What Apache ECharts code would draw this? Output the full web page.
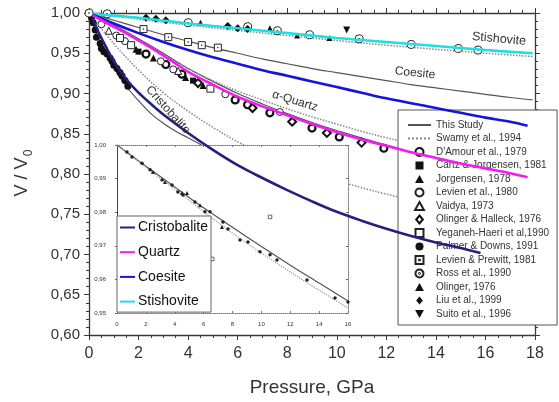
<!DOCTYPE html>
<html>
<head>
<meta charset="utf-8">
<script src="https://cdn.jsdelivr.net/npm/echarts@6.0.0/dist/echarts.min.js"></script>
<style>
  html, body { margin: 0; padding: 0; background: #fff; }
  #chart { width: 559px; height: 402px; }
</style>
</head>
<body>
<div id="chart"></div>
<script>
// ---- tick labels ----
const xTickLabels = ['0', '2', '4', '6', '8', '10', '12', '14', '16', '18'];
const yTickLabels = ['0,60', '0,65', '0,70', '0,75', '0,80', '0,85', '0,90', '0,95', '1,00'];
const insetXTickLabels = ['0', '2', '4', '6', '8', '10', '12', '14', '16'];
const insetYTickLabels = ['0,95', '0,96', '0,97', '0,98', '0,99', '1,00'];

// ---- fitted compression curves, [pressure GPa, V/V0] ----
const cristobaliteFit = [[0.15,0.993],[0.4,0.975],[0.65,0.960],[1,0.940],[1.5,0.918],[2,0.901],[2.5,0.887],[3,0.874],[4,0.851],[5,0.830],[6,0.811],[7,0.795],[8,0.780],[9,0.766],[10,0.753],[11,0.742],[12,0.732],[13,0.723],[14,0.715],[15,0.708],[15.8,0.702]];
const quartzFit = [[0.15,0.997],[0.5,0.991],[1,0.983],[1.5,0.975],[2,0.966],[2.5,0.957],[3,0.947],[3.5,0.937],[4,0.927],[5,0.911],[6,0.896],[7,0.884],[8,0.873],[9,0.862],[10,0.852],[11,0.843],[12,0.835],[13,0.827],[14,0.820],[15,0.813],[16,0.807],[17,0.801],[17.7,0.796]];
const coesiteFit = [[0.15,0.998],[1,0.987],[2,0.975],[3,0.964],[4,0.954],[5,0.945],[6,0.937],[7,0.929],[8,0.922],[9,0.915],[10,0.908],[11,0.901],[12,0.894],[13,0.888],[14,0.882],[15,0.876],[16,0.870],[17,0.865],[17.7,0.860]];
const stishoviteFit = [[0.15,0.999],[2,0.994],[4,0.987],[6,0.981],[8,0.975],[10,0.969],[12,0.964],[14,0.959],[16,0.954],[17.9,0.950]];

// ---- "This Study" curves ----
const studyCristobalite = [[0,1],[0.3,0.975],[0.6,0.955],[1,0.932],[1.5,0.909],[2,0.891],[2.5,0.875],[3,0.863],[3.5,0.853],[4,0.845],[5,0.828],[6,0.810],[7,0.794],[8,0.780],[9,0.766],[10,0.753],[12,0.732],[14,0.715],[15.8,0.702]];
const studyQuartz = [[0,1],[1,0.985],[2,0.968],[3,0.950],[4,0.931],[5,0.915],[6,0.900],[7,0.887],[8,0.875],[9,0.864],[10,0.854],[12,0.836],[14,0.821],[16,0.807],[17.7,0.796]];
const studyCoesite = [[0,1],[1,0.991],[2,0.982],[3,0.973],[4,0.965],[5,0.957],[6,0.950],[7,0.943],[8,0.937],[9,0.931],[10,0.926],[11,0.921],[12,0.916],[13,0.911],[14,0.907],[15,0.903],[16,0.899],[17,0.895],[17.9,0.892]];
const studyStishovite = [[0,1],[2,0.994],[4,0.987],[6,0.981],[8,0.975],[10,0.969],[12,0.964],[14,0.959],[16,0.954],[17.9,0.950]];

// ---- Swamy et al., 1994 ----
const swamyCristobalite = [[0,1],[1,0.962],[2,0.929],[3,0.901],[4,0.878],[5,0.858],[6,0.840],[7,0.825],[8,0.812],[9,0.801],[10,0.792],[11,0.783],[12,0.775],[13,0.768],[14,0.762],[15,0.756],[16,0.751]];
const swamyQuartz = [[0,1],[1,0.982],[2,0.965],[3,0.948],[4,0.931],[5,0.916],[6,0.903],[7,0.892],[8,0.881],[9,0.871],[10,0.862],[11,0.853],[12,0.845],[13,0.838],[14,0.831],[15,0.825],[16,0.819]];
const swamyStishovite = [[0,1],[4,0.985],[8,0.972],[12,0.960],[16,0.950],[17.9,0.946]];

// ---- measured points ----
const dAmour = [[2.3,0.949],[3.1,0.936],[3.75,0.924],[5.9,0.892],[6.4,0.886],[7.3,0.876],[9.0,0.857],[10.1,0.846],[11.9,0.832]];
const cartzJorgensen = [[2.0,0.952],[4.2,0.916]];
const jorgensen = [[1.9,0.955],[2.6,0.944],[3.9,0.920],[4.6,0.910]];
const levien1980 = [[0.5,0.986],[1.1,0.972],[1.45,0.965],[2.9,0.940],[3.4,0.930],[5.5,0.899],[7.7,0.877]];
const vaidya = [[0.8,0.978],[3.6,0.928]];
const olingerHalleck = [[4.4,0.913],[6.6,0.882],[8.2,0.865],[9.6,0.851],[11.0,0.839]];
const yeganehHaeri = [[1.25,0.969],[1.7,0.960],[4.9,0.906]];
const palmerDowns = [[0.1,0.994],[0.17,0.988],[0.25,0.979],[0.3,0.970],[0.45,0.962],[0.5,0.956],[0.6,0.952],[0.73,0.949],[0.85,0.944],[0.93,0.940],[1.0,0.935],[1.13,0.931],[1.25,0.926],[1.33,0.922],[1.45,0.916],[1.57,0.909]];
const levienPrewitt = [[2.2,0.980],[3.2,0.970],[4.0,0.964],[4.55,0.960],[5.2,0.957]];
const ross = [[0,1.0],[0.73,0.999],[4.0,0.988],[6.4,0.983],[7.6,0.978],[8.9,0.973],[10.9,0.968],[13.0,0.961],[14.9,0.956],[15.7,0.954]];
const olinger1976 = [[4.5,0.988],[7.3,0.981],[8.4,0.972],[9.7,0.969]];
const liu = [[2.3,0.994],[2.7,0.993],[3.1,0.991],[5.6,0.984],[6.0,0.981],[6.4,0.980]];
const suito = [[10.4,0.979]];

// ---- stishovite detail (inset) ----
const insetStudy = [[0,1],[2,0.9937],[4,0.9875],[6,0.9813],[8,0.9755],[10,0.9698],[12,0.9642],[14,0.9589],[16,0.9536]];
const insetSwamy = [[0,1],[4,0.9868],[8,0.9738],[12,0.9622],[16,0.9515]];
const insetDots = [[0.69,0.9979],[1.04,0.9964],[1.73,0.9946],[2.29,0.9926],[3.12,0.9896],[3.81,0.9881],[4.22,0.986],[4.57,0.9851],[5.4,0.983],[6.09,0.9801],[6.44,0.9801],[7.34,0.9771],[7.69,0.975],[8.52,0.9717],[9.07,0.9711],[9.9,0.9682],[10.6,0.9673],[11.08,0.9658],[13.16,0.9598],[15.1,0.9545],[16.0,0.9533]];
const insetTriangles = [[2.49,0.992],[3.32,0.989],[4.5,0.9857],[4.85,0.9857],[5.75,0.9821],[7.27,0.9756]];
const insetOpen = [[10.6,0.9786],[6.6,0.9661]];

const phaseNames = ['Cristobalite', 'Quartz', 'Coesite', 'Stishovite'];

const FONT = "'Liberation Sans', Arial, Helvetica, sans-serif";
const INK = '#333';
const AXIS = '#3a3a3a';

// marker shapes (paths keep their proportions in the legend)
const P_CIRCLE = 'path://M5,0A5,5,0,1,1,4.99,0Z';
const P_SQUARE = 'path://M0,0H10V10H0Z';
const P_TRI = 'path://M5,0L10,9L0,9Z';
const P_DIAMOND = 'path://M5,0L10,6L5,12L0,6Z';
const P_SQUARE_DOT = 'path://M0,0H10V10H0Z M4.6,4.6H5.4V5.4H4.6Z';
const P_CIRCLE_DOT = 'path://M5,0A5,5,0,1,1,4.99,0Z M5,4.5A0.5,0.5,0,1,1,4.99,4.5Z';
const P_DOWN_TRI = 'path://M0,0L10,0L5,9Z';

const legendItems = [
  { name: 'This Study' },
  { name: 'Swamy et al., 1994' },
  { name: "D'Amour et al., 1979", icon: P_CIRCLE },
  { name: 'Cartz & Jorgensen, 1981', icon: P_SQUARE },
  { name: 'Jorgensen, 1978', icon: P_TRI },
  { name: 'Levien et al., 1980', icon: P_CIRCLE },
  { name: 'Vaidya, 1973', icon: P_TRI },
  { name: 'Olinger & Halleck, 1976', icon: P_DIAMOND },
  { name: 'Yeganeh-Haeri et al,1990', icon: P_SQUARE },
  { name: 'Palmer & Downs, 1991', icon: P_CIRCLE },
  { name: 'Levien & Prewitt, 1981', icon: P_SQUARE_DOT },
  { name: 'Ross et al., 1990', icon: P_CIRCLE_DOT },
  { name: 'Olinger, 1976', icon: P_TRI },
  { name: 'Liu et al., 1999', icon: P_DIAMOND },
  { name: 'Suito et al., 1996', icon: P_DOWN_TRI }
];

function curve(name, data, color, width, type, z, xi) {
  return {
    type: 'line', name, data, xAxisIndex: xi || 0, yAxisIndex: xi || 0,
    smooth: 0.35, symbol: 'none', silent: true, z,
    lineStyle: { color, width, type: type || 'solid' },
    itemStyle: { color: 'rgba(0,0,0,0)', borderWidth: 0 }
  };
}
function marks(name, data, symbol, size, fill, stroke, bw, xi, z) {
  return {
    type: 'scatter', name, data, xAxisIndex: xi || 0, yAxisIndex: xi || 0,
    symbol, symbolSize: size, silent: true, z: z || 3,
    itemStyle: { color: fill, borderColor: stroke, borderWidth: bw, opacity: 1 }
  };
}

const series = [
  curve('This Study', studyStishovite, '#555', 1.2, 'solid', 2),
  curve('Swamy et al., 1994', swamyStishovite, '#888', 1.5, 'dotted', 2),
  curve('This Study', studyCoesite, '#555', 1.2, 'solid', 2),
  curve('This Study', studyQuartz, '#555', 1.2, 'solid', 2),
  curve('Swamy et al., 1994', swamyQuartz, '#888', 1.5, 'dotted', 2),
  curve('This Study', studyCristobalite, '#555', 1.2, 'solid', 2),
  curve('Swamy et al., 1994', swamyCristobalite, '#888', 1.5, 'dotted', 2),

  marks("D'Amour et al., 1979", dAmour, 'circle', 7, '#fff', '#111', 2.2),
  marks('Cartz & Jorgensen, 1981', cartzJorgensen, 'rect', 6, '#111', '#111', 0),
  marks('Jorgensen, 1978', jorgensen, 'triangle', 7, '#111', '#111', 0),
  marks('Levien et al., 1980', levien1980, 'circle', 7, '#fff', '#222', 1),
  marks('Vaidya, 1973', vaidya, 'triangle', 7, '#fff', '#222', 1),
  marks('Olinger & Halleck, 1976', olingerHalleck, 'diamond', 8, '#fff', '#111', 2),
  marks('Yeganeh-Haeri et al,1990', yeganehHaeri, 'rect', 7, '#fff', '#222', 1),
  marks('Palmer & Downs, 1991', palmerDowns, 'circle', 7, '#111', '#111', 0),
  marks('Levien & Prewitt, 1981', levienPrewitt, P_SQUARE_DOT, 7, '#fff', '#222', 1),
  marks('Ross et al., 1990', ross, P_CIRCLE_DOT, 8, '#fff', '#222', 1),
  marks('Olinger, 1976', olinger1976, 'triangle', 6, '#111', '#111', 0),
  marks('Liu et al., 1999', liu, 'diamond', 8, '#111', '#111', 0),
  marks('Suito et al., 1996', suito, P_DOWN_TRI, 7, '#111', '#111', 0),

  // inset: stishovite at low compression
  curve('Stishovite detail', insetStudy, '#555', 1.2, 'solid', 4, 2),
  curve('Stishovite detail Swamy', insetSwamy, '#999', 1.2, 'dotted', 4, 2),
  marks('Stishovite detail points', insetDots, 'circle', 3.5, '#222', '#222', 0, 2, 4),
  marks('Stishovite detail triangles', insetTriangles, 'triangle', 4, '#222', '#222', 0, 2, 4),
  marks('Stishovite detail open', insetOpen, 'rect', 3.5, '#fff', '#444', 0.8, 2, 4),

  // colored fits, drawn on top
  curve('Stishovite', stishoviteFit, '#1fe0e0', 2.6, 'solid', 6),
  curve('Coesite', coesiteFit, '#1414dc', 2.6, 'solid', 6),
  curve('Quartz', quartzFit, '#f01cf0', 2.6, 'solid', 6),
  curve('Cristobalite', cristobaliteFit, '#23217c', 2.6, 'solid', 6)
];

function mainXAxis(position, labels) {
  return {
    gridIndex: 0, type: 'value', position, min: 0, max: 18, interval: 2,
    axisLine: { show: true, onZero: false, lineStyle: { color: AXIS, width: 1.3 } },
    axisTick: { show: true, length: 5, lineStyle: { color: AXIS, width: 1 } },
    minorTick: { show: true, splitNumber: 4, length: 3, lineStyle: { color: AXIS, width: 1 } },
    splitLine: { show: false }, minorSplitLine: { show: false },
    axisLabel: labels ? { show: true, fontSize: 16, color: INK, fontFamily: FONT, margin: 11,
      formatter: v => xTickLabels[Math.round(v / 2)] } : { show: false }
  };
}
function mainYAxis(position, labels) {
  return {
    gridIndex: 0, type: 'value', position, min: 0.6, max: 1.0, interval: 0.05,
    axisLine: { show: true, onZero: false, lineStyle: { color: AXIS, width: 1.3 } },
    axisTick: { show: true, length: 5, lineStyle: { color: AXIS, width: 1 } },
    minorTick: { show: true, splitNumber: 5, length: 3, lineStyle: { color: AXIS, width: 1 } },
    splitLine: { show: false }, minorSplitLine: { show: false },
    axisLabel: labels ? { show: true, fontSize: 15, color: INK, fontFamily: FONT, margin: 9,
      formatter: v => yTickLabels[Math.round((v - 0.6) / 0.05)] } : { show: false }
  };
}
function insetXAxis(position, labels) {
  return {
    gridIndex: 1, type: 'value', position, min: 0, max: 16, interval: 2, z: 4,
    axisLine: { show: true, onZero: false, lineStyle: { color: '#777', width: 1, type: 'dotted' } },
    axisTick: { show: true, inside: true, length: 2, lineStyle: { color: '#777' } },
    minorTick: { show: false },
    splitLine: { show: false },
    axisLabel: labels ? { show: true, fontSize: 6, color: INK, fontFamily: FONT, margin: 8,
      formatter: v => insetXTickLabels[Math.round(v / 2)] } : { show: false }
  };
}
function insetYAxis(position, labels) {
  return {
    gridIndex: 1, type: 'value', position, min: 0.95, max: 1.0, interval: 0.01, z: 4,
    axisLine: { show: true, onZero: false, lineStyle: labels ? { color: '#444', width: 1 } : { color: '#777', width: 1, type: 'dotted' } },
    axisTick: { show: true, inside: !labels, length: 2, lineStyle: { color: '#666' } },
    minorTick: { show: false },
    splitLine: { show: false },
    axisLabel: labels ? { show: true, fontSize: 6, color: INK, fontFamily: FONT, margin: 11,
      formatter: v => insetYTickLabels[Math.round((v - 0.95) / 0.01)] } : { show: false }
  };
}

const option = {
  animation: false,
  backgroundColor: '#fff',
  textStyle: { fontFamily: FONT },
  grid: [
    { left: 89, top: 13, width: 446, height: 322, containLabel: false, outerBoundsMode: 'none' },
    { left: 117, top: 145, width: 231, height: 168, containLabel: false, outerBoundsMode: 'none',
      show: true, backgroundColor: '#fff', borderWidth: 0, z: 3 }
  ],
  xAxis: [mainXAxis('bottom', true), mainXAxis('top', false), insetXAxis('bottom', true), insetXAxis('top', false)],
  yAxis: [mainYAxis('left', true), mainYAxis('right', false), insetYAxis('left', true), insetYAxis('right', false)],
  legend: [
    {
      data: legendItems, orient: 'vertical', left: 398, top: 110, z: 5,
      padding: [9, 8, 5, 9], itemGap: 1.5, itemWidth: 23, itemHeight: 8,
      symbolKeepAspect: true,
      backgroundColor: '#fff', borderColor: '#555', borderWidth: 1,
      selectedMode: false,
      textStyle: { fontSize: 10, lineHeight: 12, color: INK, fontFamily: FONT }
    },
    {
      data: phaseNames, orient: 'vertical', left: 117, top: 216, z: 5,
      padding: [3, 3, 2, 2], itemGap: 7.7, itemWidth: 15, itemHeight: 10,
      backgroundColor: '#fff', borderColor: '#666', borderWidth: 1,
      selectedMode: false,
      textStyle: { fontSize: 14, lineHeight: 17, color: '#111', fontFamily: FONT, padding: [0, 0, 0, -2] }
    }
  ],
  graphic: [
    { type: 'text', x: 312, y: 388, z: 7, silent: true,
      style: { text: 'Pressure, GPa', fill: INK, fontSize: 19, fontFamily: FONT, align: 'center', verticalAlign: 'middle' } },
    { type: 'text', x: 22, y: 177, rotation: Math.PI / 2, z: 7, silent: true,
      style: { text: 'V / V', fill: INK, fontSize: 18, fontFamily: FONT, align: 'center', verticalAlign: 'middle' } },
    { type: 'text', x: 29, y: 153, rotation: Math.PI / 2, z: 7, silent: true,
      style: { text: '0', fill: INK, fontSize: 12, fontFamily: FONT, align: 'center', verticalAlign: 'middle' } },
    { type: 'text', x: 499, y: 39, rotation: -0.09, z: 7, silent: true,
      style: { text: 'Stishovite', fill: INK, fontSize: 12.5, fontFamily: FONT, align: 'center', verticalAlign: 'middle' } },
    { type: 'text', x: 415, y: 73, rotation: -0.1, z: 7, silent: true,
      style: { text: 'Coesite', fill: INK, fontSize: 12, fontFamily: FONT, align: 'center', verticalAlign: 'middle' } },
    { type: 'text', x: 295, y: 101, rotation: -0.3, z: 7, silent: true,
      style: { text: '\u03b1-Quartz', fill: INK, fontSize: 12, fontFamily: FONT, align: 'center', verticalAlign: 'middle' } },
    { type: 'text', x: 168, y: 110, rotation: -0.84, z: 7, silent: true,
      style: { text: 'Cristobalite', fill: INK, fontSize: 12, fontFamily: FONT, align: 'center', verticalAlign: 'middle' } }
  ],
  series
};

const chart = echarts.init(document.getElementById('chart'), null, { renderer: 'canvas' });
chart.setOption(option);
</script>
</body>
</html>
